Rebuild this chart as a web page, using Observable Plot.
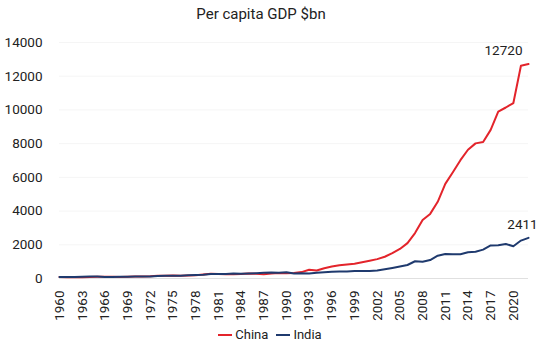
<!DOCTYPE html>
<html><head><meta charset="utf-8">
<script src="https://cdn.jsdelivr.net/npm/d3@7"></script>
<script src="https://cdn.jsdelivr.net/npm/@observablehq/plot@0.6"></script>
<style>
body{margin:0;background:#fff;font-family:Roboto,sans-serif;}
#wrap{position:relative;width:540px;height:351px;overflow:hidden;}
#title{position:absolute;left:0;top:5px;width:522px;text-align:center;font-size:15px;color:#222;}
#chart{position:absolute;left:0;top:30px;}
#legend{position:absolute;left:0;top:327px;width:540px;display:flex;justify-content:center;gap:8px;font-size:13px;color:#222;}
#legend span.item{display:flex;align-items:center;}
#legend span.sw{display:inline-block;width:14px;height:2px;margin-right:3px;}
</style>
</head><body>
<div id="wrap">
  <div id="title"></div>
  <div id="chart"></div>
  <div id="legend"></div>
</div>
<script>
const title = "Per capita GDP $bn";
const seriesNames = ["China", "India"];
const seriesColors = ["#e3242b", "#1f3a6e"];
const years = [1960,1961,1962,1963,1964,1965,1966,1967,1968,1969,1970,1971,1972,1973,1974,1975,1976,1977,1978,1979,1980,1981,1982,1983,1984,1985,1986,1987,1988,1989,1990,1991,1992,1993,1994,1995,1996,1997,1998,1999,2000,2001,2002,2003,2004,2005,2006,2007,2008,2009,2010,2011,2012,2013,2014,2015,2016,2017,2018,2019,2020,2021,2022];
const china = [90,76,71,74,86,99,104,97,92,100,113,119,132,157,160,178,165,185,200,240,280,270,250,255,260,294,282,252,300,320,318,333,380,520,470,610,709,782,829,873,959,1053,1149,1289,1509,1753,2099,2694,3468,3832,4551,5614,6301,7020,7636,8016,8094,8817,9905,10144,10409,12618,12720];
const india = [82,85,90,101,116,119,90,96,99,108,112,119,123,144,163,158,161,186,206,224,267,271,274,291,277,296,311,340,354,346,368,303,317,301,346,374,400,416,413,442,442,450,469,544,624,711,801,1023,994,1097,1351,1450,1434,1438,1560,1590,1714,1958,1974,2050,1913,2250,2411];
const yTicks = [0,2000,4000,6000,8000,10000,12000,14000];
const xTicks = [1960,1963,1966,1969,1972,1975,1978,1981,1984,1987,1990,1993,1996,1999,2002,2005,2008,2011,2014,2017,2020];

const data = [];
years.forEach((y, i) => {
  data.push({year: y, value: china[i], series: "China"});
  data.push({year: y, value: india[i], series: "India"});
});
const last = [
  {year: years[years.length-1], value: china[china.length-1], series: "China"},
  {year: years[years.length-1], value: india[india.length-1], series: "India"}
];

document.getElementById("title").textContent = title;

const chart = Plot.plot({
  width: 540,
  height: 296,
  marginLeft: 59,
  marginRight: 12,
  marginTop: 12,
  marginBottom: 48,
  style: {fontFamily: "Roboto, sans-serif", fontSize: "13px", color: "#222", background: "#fff"},
  x: {domain: [1960, 2022]},
  y: {domain: [0, 14000]},
  color: {domain: seriesNames, range: seriesColors},
  marks: [
    Plot.ruleY(yTicks.filter(d => d > 0), {stroke: "#f5f5f5", strokeWidth: 1}),
    Plot.ruleY([0], {stroke: "#e0e0e0", strokeWidth: 1}),
    Plot.line(data, {x: "year", y: "value", stroke: "series", z: "series", strokeWidth: 2}),
    Plot.text(last.filter(d => d.series === "China"), {x: "year", y: "value", text: d => String(d.value), dx: -25, dy: -13, fontSize: 13.5, fill: "#222"}),
    Plot.text(last.filter(d => d.series === "India"), {x: "year", y: "value", text: d => String(d.value), dx: -6, dy: -13, fontSize: 13.5, fill: "#222"}),
    Plot.axisY({ticks: yTicks, tickSize: 0, tickPadding: 17, tickFormat: d => String(d), label: null, fontSize: 13.5}),
    Plot.axisX({ticks: xTicks, tickSize: 0, tickPadding: 12, tickRotate: -90, tickFormat: d => String(d), label: null, fontSize: 13.5})
  ]
});
document.getElementById("chart").appendChild(chart);

const legend = document.getElementById("legend");
seriesNames.forEach((n, i) => {
  const item = document.createElement("span");
  item.className = "item";
  const sw = document.createElement("span");
  sw.className = "sw";
  sw.style.background = seriesColors[i];
  item.appendChild(sw);
  item.appendChild(document.createTextNode(n));
  legend.appendChild(item);
});
</script>
</body></html>
